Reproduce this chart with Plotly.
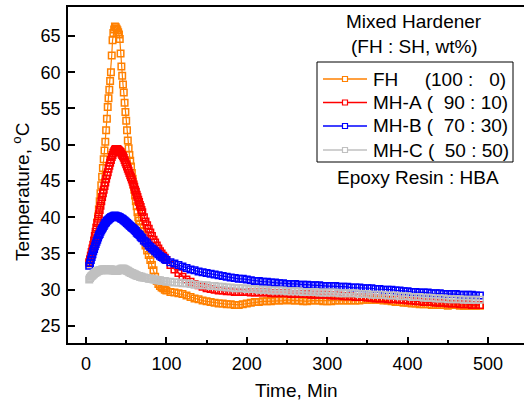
import plotly.graph_objects as go

# ---- data ----
time_min = [4, 5, 6, 7, 8, 9, 10, 11, 12, 13, 14, 15, 16, 17, 18, 19, 20, 21, 22, 23,
            24, 25, 26, 27, 28, 29, 30, 31, 32, 33, 34, 35, 36, 37, 38, 39, 40, 41, 42, 43,
            44, 45, 46, 47, 48, 49, 50, 51, 52, 53, 54, 55, 56, 57, 58, 59, 60, 61, 62, 63,
            64, 65, 66, 67, 68, 69, 70,
            72, 74, 76, 78, 80, 82, 84, 86, 88, 90, 92, 94, 96, 98, 100,
            105, 110, 115, 120, 125, 130, 135, 140, 145, 150,
            155, 160, 165, 170, 175, 180, 185, 190, 195, 200,
            205, 210, 215, 220, 225, 230, 235, 240, 245, 250,
            255, 260, 265, 270, 275, 280, 285, 290, 295, 300,
            305, 310, 315, 320, 325, 330, 335, 340, 345, 350,
            355, 360, 365, 370, 375, 380, 385, 390, 395, 400,
            405, 410, 415, 420, 425, 430, 435, 440, 445, 450,
            455, 460, 465, 470, 475, 480, 485, 490]

temp_FH = [33.6, 34.0, 34.4, 34.8, 35.3, 35.8, 36.4, 37.0, 37.7, 38.5, 39.3, 40.1, 41.1, 42.2, 43.3, 44.4, 45.6, 46.8, 48.0, 49.2,
           50.4, 52.0, 53.6, 55.2, 56.4, 57.6, 58.8, 60.0, 62.3, 64.4, 65.4, 65.9, 66.3, 66.2, 66.0, 65.8, 65.5, 65.2, 64.6, 62.6,
           60.8, 59.5, 58.3, 57.2, 55.8, 54.5, 53.3, 52.0, 50.6, 49.5, 48.6, 47.8, 47.0, 46.1, 45.3, 44.5, 43.8, 43.0, 42.2, 41.5,
           40.7, 40.0, 39.5, 39.0, 38.5, 38.0, 37.5,
           36.8, 36.1, 35.4, 34.8, 34.1, 33.4, 32.7, 31.8, 31.2, 30.8, 30.5, 30.3, 30.2, 30.0, 29.9,
           29.7, 29.6, 29.5, 29.4, 29.2, 29.0, 28.8, 28.7, 28.5, 28.4,
           28.3, 28.2, 28.1, 28.1, 28.0, 28.0, 27.9, 27.9, 28.0, 28.1,
           28.2, 28.3, 28.3, 28.4, 28.4, 28.4, 28.5, 28.5, 28.5, 28.6,
           28.5, 28.5, 28.5, 28.4, 28.4, 28.5, 28.5, 28.5, 28.4, 28.4,
           28.4, 28.5, 28.5, 28.5, 28.5, 28.5, 28.5, 28.5, 28.6, 28.6,
           28.6, 28.6, 28.6, 28.5, 28.5, 28.4, 28.3, 28.3, 28.2, 28.2,
           28.1, 28.1, 28.0, 28.0, 28.0, 27.9, 27.9, 27.9, 27.9, 27.8,
           27.9, 27.9, 27.8, 27.8, 27.8, 27.8, 27.8, 27.8]

temp_MHA = [33.8, 34.2, 34.7, 35.2, 35.7, 36.2, 36.8, 37.4, 38.0, 38.6, 39.2, 39.8, 40.4, 41.0, 41.6, 42.2, 42.8, 43.3, 43.8, 44.3,
            44.8, 45.3, 45.8, 46.2, 46.7, 47.1, 47.5, 47.9, 48.3, 48.6, 48.9, 49.1, 49.3, 49.4, 49.4, 49.4, 49.3, 49.2, 49.1, 49.0,
            48.8, 48.6, 48.4, 48.2, 47.9, 47.6, 47.3, 47.0, 46.7, 46.4, 46.1, 45.8, 45.5, 45.2, 44.9, 44.5, 44.2, 43.8, 43.5, 43.1,
            42.8, 42.4, 42.1, 41.7, 41.4, 41.0, 40.7,
            40.0, 39.4, 38.9, 38.4, 37.9, 37.4, 36.9, 36.5, 36.1, 35.7, 35.3, 35.0, 34.7, 34.4, 34.1,
            33.4, 32.8, 32.3, 31.8, 31.4, 31.1, 30.8, 30.6, 30.4, 30.2,
            30.1, 30.0, 29.9, 29.9, 29.8, 29.8, 29.7, 29.7, 29.7, 29.7,
            29.6, 29.6, 29.6, 29.6, 29.6, 29.5, 29.5, 29.5, 29.5, 29.5,
            29.4, 29.4, 29.4, 29.4, 29.4, 29.3, 29.3, 29.3, 29.3, 29.3,
            29.2, 29.2, 29.2, 29.1, 29.1, 29.1, 29.0, 29.0, 29.0, 28.9,
            28.9, 28.8, 28.8, 28.8, 28.7, 28.7, 28.7, 28.6, 28.6, 28.5,
            28.5, 28.4, 28.4, 28.3, 28.3, 28.3, 28.2, 28.2, 28.2, 28.1,
            28.1, 28.1, 28.0, 28.0, 28.0, 27.9, 27.9, 27.9]

temp_MHB = [33.3, 33.7, 34.1, 34.5, 34.9, 35.3, 35.6, 36.0, 36.3, 36.6, 36.9, 37.2, 37.5, 37.7, 38.0, 38.2, 38.4, 38.6, 38.8, 39.0,
            39.2, 39.3, 39.5, 39.6, 39.7, 39.8, 39.9, 40.0, 40.0, 40.1, 40.1, 40.2, 40.2, 40.2, 40.1, 40.1, 40.1, 40.0, 40.0, 39.9,
            39.8, 39.8, 39.7, 39.6, 39.5, 39.4, 39.3, 39.2, 39.1, 39.0, 38.9, 38.8, 38.7, 38.6, 38.5, 38.4, 38.3, 38.2, 38.1, 37.9,
            37.8, 37.7, 37.6, 37.5, 37.3, 37.2, 37.1,
            36.8, 36.6, 36.4, 36.1, 35.9, 35.7, 35.5, 35.3, 35.1, 34.9, 34.7, 34.5, 34.4, 34.2, 34.1,
            33.8, 33.6, 33.4, 33.2, 33.0, 32.8, 32.7, 32.5, 32.4, 32.3,
            32.2, 32.1, 32.0, 31.9, 31.8, 31.7, 31.6, 31.5, 31.5, 31.4,
            31.3, 31.2, 31.2, 31.1, 31.1, 31.0, 31.0, 30.9, 30.9, 30.8,
            30.8, 30.8, 30.7, 30.7, 30.7, 30.6, 30.6, 30.6, 30.5, 30.5,
            30.5, 30.5, 30.4, 30.4, 30.4, 30.3, 30.3, 30.3, 30.2, 30.2,
            30.2, 30.1, 30.1, 30.0, 30.0, 30.0, 29.9, 29.9, 29.8, 29.8,
            29.7, 29.7, 29.6, 29.6, 29.6, 29.5, 29.5, 29.5, 29.4, 29.4,
            29.4, 29.4, 29.3, 29.3, 29.3, 29.3, 29.2, 29.2]

temp_MHC = [31.4, 31.6, 31.8, 31.9, 32.0, 32.1, 32.2, 32.3, 32.4, 32.4, 32.5, 32.6, 32.6, 32.7, 32.7, 32.7, 32.8, 32.8, 32.8, 32.8,
            32.8, 32.8, 32.7, 32.7, 32.7, 32.8, 32.8, 32.8, 32.8, 32.7, 32.7, 32.7, 32.6, 32.6, 32.6, 32.6, 32.7, 32.7, 32.8, 32.8,
            32.9, 32.9, 32.9, 32.9, 32.8, 32.8, 32.7, 32.6, 32.6, 32.5, 32.4, 32.4, 32.3, 32.3, 32.2, 32.2, 32.1, 32.1, 32.0, 32.0,
            31.9, 31.9, 31.9, 31.8, 31.8, 31.8, 31.7,
            31.7, 31.6, 31.6, 31.5, 31.5, 31.5, 31.4, 31.4, 31.3, 31.3, 31.3, 31.2, 31.2, 31.2, 31.1,
            31.1, 31.0, 31.0, 30.9, 30.9, 30.8, 30.7, 30.7, 30.6, 30.6,
            30.5, 30.5, 30.4, 30.4, 30.3, 30.3, 30.2, 30.2, 30.2, 30.1,
            30.1, 30.1, 30.0, 30.0, 30.0, 29.9, 29.9, 29.9, 29.9, 29.8,
            29.8, 29.8, 29.8, 29.7, 29.7, 29.7, 29.7, 29.6, 29.6, 29.6,
            29.6, 29.6, 29.5, 29.5, 29.5, 29.5, 29.5, 29.4, 29.4, 29.4,
            29.3, 29.3, 29.3, 29.3, 29.2, 29.2, 29.2, 29.1, 29.1, 29.1,
            29.0, 29.0, 29.0, 28.9, 28.9, 28.9, 28.8, 28.8, 28.8, 28.7,
            28.7, 28.7, 28.7, 28.6, 28.6, 28.6, 28.6, 28.6]

NB = "\u00a0"
series_short = ["FH", "MH-A", "MH-B", "MH-C"]
series_labels = [
    "FH" + NB * 5 + "(100" + NB + ":" + NB * 3 + "0)",
    "MH-A" + NB + "(" + NB * 2 + "90" + NB + ":" + NB + "10)",
    "MH-B" + NB + "(" + NB * 2 + "70" + NB + ":" + NB + "30)",
    "MH-C" + NB + "(" + NB * 2 + "50" + NB + ":" + NB + "50)",
]
series_values = [temp_FH, temp_MHA, temp_MHB, temp_MHC]
series_colors = ["#FF8000", "#FF0000", "#0000FF", "#C0C0C0"]

x_ticks = [0, 100, 200, 300, 400, 500]
x_minor = [50, 150, 250, 350, 450]
y_ticks = [25, 30, 35, 40, 45, 50, 55, 60, 65]

for v in series_values:
    assert len(v) == len(time_min), (len(v), len(time_min))

FONT = "Liberation Sans, Arial, sans-serif"

# plot area in pixels (for placing the legend box / labels)
W, H = 524, 403
L, R, T, B = 68, 0, 7, 60
PW, PH = W - L - R, H - T - B


def px_x(x):
    return (x - L) / PW


def px_y(y):
    return (H - B - y) / PH


fig = go.Figure()
for name, vals, col in zip(series_short, series_values, series_colors):
    fig.add_trace(go.Scatter(
        x=time_min, y=vals, name=name, mode="lines+markers", showlegend=False,
        line=dict(color=col, width=1.2),
        marker=dict(symbol="square-open", size=6.5, color=col, line=dict(width=1.5, color=col)),
    ))

# custom legend box (tight rows like the reference)
shapes = [dict(type="rect", xref="paper", yref="paper", x0=px_x(317), x1=px_x(513),
               y0=px_y(162), y1=px_y(62), line=dict(color="black", width=1),
               fillcolor="rgba(0,0,0,0)", layer="above")]
annotations = []
row_y = [79, 102.5, 126, 150]
for label, col, ry in zip(series_labels, series_colors, row_y):
    shapes.append(dict(type="line", xref="paper", yref="paper", x0=px_x(323), x1=px_x(367),
                       y0=px_y(ry), y1=px_y(ry), line=dict(color=col, width=1.3), layer="above"))
    shapes.append(dict(type="rect", xref="paper", yref="paper", x0=px_x(342.5), x1=px_x(347.5),
                       y0=px_y(ry + 2.5), y1=px_y(ry - 2.5), line=dict(color=col, width=1.2),
                       fillcolor="white", layer="above"))
    annotations.append(dict(text=label, xref="paper", yref="paper", x=px_x(371), y=px_y(ry),
                            showarrow=False, font=dict(size=19), xanchor="left", yanchor="middle"))

annotations += [
    dict(text="Mixed Hardener", xref="paper", yref="paper", x=px_x(414), y=px_y(22),
         showarrow=False, font=dict(size=19), xanchor="center", yanchor="middle"),
    dict(text="(FH : SH, wt%)", xref="paper", yref="paper", x=px_x(414), y=px_y(46),
         showarrow=False, font=dict(size=19), xanchor="center", yanchor="middle"),
    dict(text="Epoxy Resin : HBA", xref="paper", yref="paper", x=px_x(418), y=px_y(177),
         showarrow=False, font=dict(size=19), xanchor="center", yanchor="middle"),
    dict(text="Time, Min", xref="paper", yref="paper", x=px_x(296), y=px_y(390),
         showarrow=False, font=dict(size=19), xanchor="center", yanchor="middle"),
    dict(text="Temperature, <sup>o</sup>C", xref="paper", yref="paper", x=px_x(21), y=px_y(192),
         showarrow=False, font=dict(size=19), textangle=-90, xanchor="center", yanchor="middle"),
]

fig.update_layout(
    width=W, height=H,
    margin=dict(l=L, r=R, t=T, b=B, autoexpand=False),
    paper_bgcolor="white", plot_bgcolor="white",
    font=dict(family=FONT, size=18, color="black"),
    showlegend=False,
    xaxis=dict(
        range=[-22.4, 544.8], tickvals=x_ticks, ticks="inside", ticklen=6, tickwidth=1.5,
        tickcolor="black", showline=True, linewidth=1.5, linecolor="black", mirror=True,
        showgrid=False, zeroline=False, automargin=False, ticklabelstandoff=4,
        minor=dict(tickvals=x_minor, ticks="inside", ticklen=3.5, tickwidth=1.5, tickcolor="black"),
        tickfont=dict(size=18),
    ),
    yaxis=dict(
        range=[22.65, 69], tickvals=y_ticks, ticks="inside", ticklen=7, tickwidth=1.5,
        tickcolor="black", showline=True, linewidth=1.5, linecolor="black",
        showgrid=False, zeroline=False, automargin=False, ticklabelstandoff=2,
        tickfont=dict(size=18),
    ),
    shapes=shapes,
    annotations=annotations,
)

fig.write_html("out.html", config={"displayModeBar": False},
               post_script="document.body.style.margin='0';document.body.style.padding='0';")
